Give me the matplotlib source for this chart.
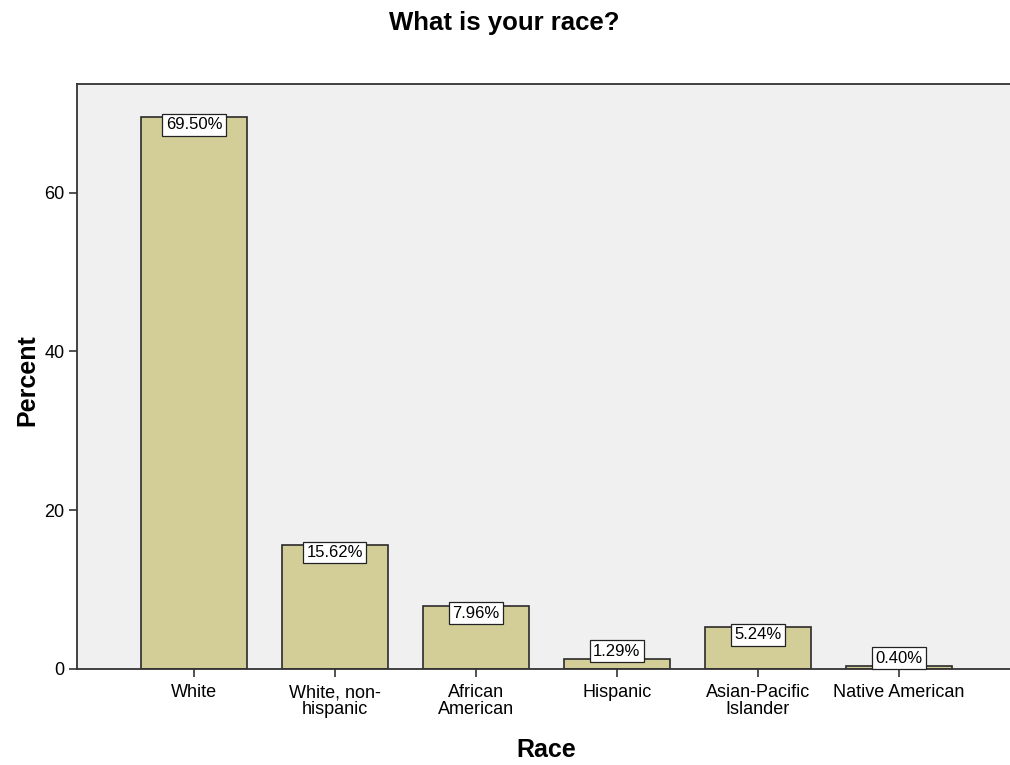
import matplotlib.pyplot as plt

plt.rcParams['font.family'] = ['Liberation Sans', 'DejaVu Sans']

categories = ['White', 'White, non-\nhispanic', 'African\nAmerican', 'Hispanic',
              'Asian-Pacific\nIslander', 'Native American']
percents = [69.50, 15.62, 7.96, 1.29, 5.24, 0.40]
y_ticks = [0, 20, 40, 60]


def main():
    fig = plt.figure(figsize=(10.1, 7.65), dpi=100)
    ax = fig.add_axes([0.0762, 0.1255, 0.9238, 0.7647])
    ax.set_facecolor('#f0f0f0')

    x = list(range(len(categories)))
    ax.bar(x, percents, width=0.75, color='#d3ce98', edgecolor='#2b2b2b', linewidth=1.2)

    # value labels in white boxes
    for xi, p in zip(x, percents):
        va = 'top' if p > 3 else 'bottom'
        ax.text(xi, p, '%.2f%%' % p, ha='center', va=va, fontsize=12,
                bbox=dict(boxstyle='square,pad=0.2', facecolor='white',
                          edgecolor='#222222', linewidth=0.9))

    ax.set_xlim(-0.83, 5.79)
    ax.set_ylim(0, 73.7)
    ax.set_xticks(x)
    ax.set_xticklabels(categories, fontsize=13, linespacing=0.95)
    ax.set_yticks(y_ticks)
    ax.tick_params(axis='both', direction='out', length=6, width=1.2,
                   color='#333333', labelsize=13, pad=3)
    ax.tick_params(axis='x', pad=5)

    for s in ['left', 'bottom', 'top']:
        ax.spines[s].set_color('#333333')
        ax.spines[s].set_linewidth(1.3)
    ax.spines['right'].set_visible(False)

    fig.text(0.499, 0.97, 'What is your race?', ha='center', va='center',
             fontsize=18.5, fontweight='bold')
    fig.text(0.541, 0.019, 'Race', ha='center', va='center',
             fontsize=18, fontweight='bold')
    fig.text(0.027, 0.503, 'Percent', ha='center', va='center', rotation=90,
             fontsize=18, fontweight='bold')

    fig.savefig('out.png', dpi=100)


if __name__ == '__main__':
    main()
